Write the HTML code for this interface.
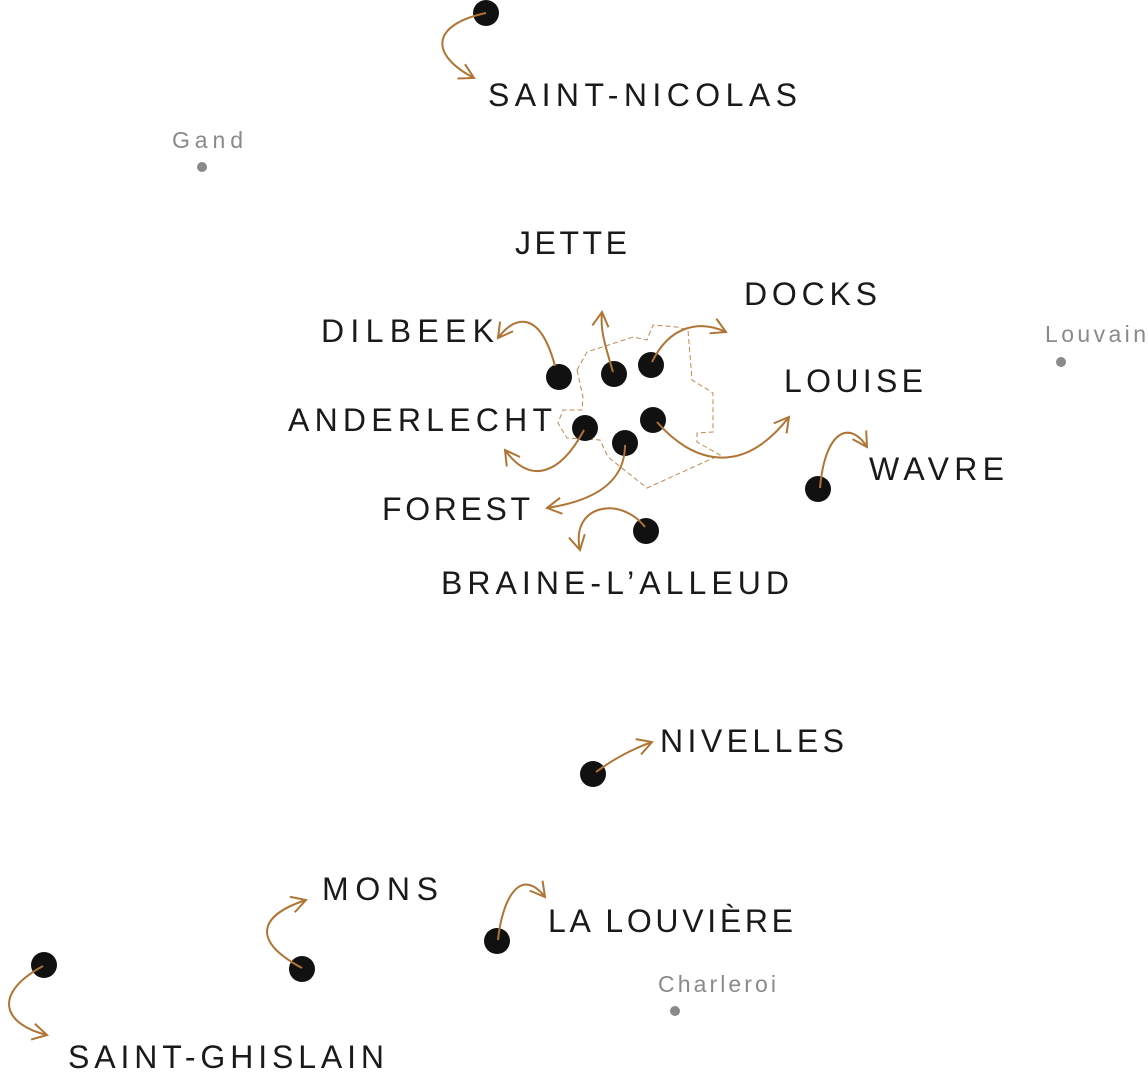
<!DOCTYPE html>
<html><head><meta charset="utf-8"><style>
html,body{margin:0;padding:0;background:#fff;}
svg{display:block;}
.l{font-family:"Liberation Sans",sans-serif;font-size:32px;fill:#1a1a1a;}
.g{font-family:"Liberation Sans",sans-serif;font-size:23px;fill:#8a8a8a;}
</style></head><body>
<svg width="1148" height="1080" viewBox="0 0 1148 1080" xmlns="http://www.w3.org/2000/svg">
<defs>
<marker id="a" viewBox="0 0 10 10" refX="9" refY="5" markerWidth="18" markerHeight="18" markerUnits="userSpaceOnUse" orient="auto">
<path d="M1,0.5 L9,5 L1,9.5" fill="none" stroke="#b07434" stroke-width="1.1"/>
</marker>
</defs>
<polygon points="577,370 587,352 633,337 647,340 653,325 677,327 688,330 692,380 713,393 713,432 697,433 697,442 720,455 647,488 608,457 600,440 567,438 558,423 563,410 582,410 583,397" fill="none" stroke="#c08850" stroke-width="1" stroke-dasharray="5,3"/>
<g fill="#111">
<circle cx="486" cy="13" r="13"/><circle cx="559" cy="377" r="13"/><circle cx="614" cy="374" r="13"/>
<circle cx="651" cy="365" r="13"/><circle cx="585" cy="428" r="13"/><circle cx="625" cy="443" r="13"/>
<circle cx="653" cy="420" r="13"/><circle cx="646" cy="531" r="13"/><circle cx="818" cy="489" r="13"/>
<circle cx="593" cy="774" r="13"/><circle cx="497" cy="941" r="13"/><circle cx="302" cy="969" r="13"/>
<circle cx="44" cy="965" r="13"/>
</g>
<g fill="#8a8a8a"><circle cx="202" cy="167" r="5"/><circle cx="1061" cy="362" r="5"/><circle cx="675" cy="1011" r="5"/></g>
<g fill="none" stroke="#b07434" stroke-width="2" marker-end="url(#a)">
<path d="M486,13 C430,25 430,55 474,78"/>
<path d="M555,366 C540,310 515,315 498,338"/>
<path d="M613,372 C605,345 600,330 602,312"/>
<path d="M652,362 C670,325 700,320 726,332"/>
<path d="M657,422 C690,460 740,480 789,417"/>
<path d="M584,430 C560,475 530,485 505,450"/>
<path d="M625,445 C625,490 580,503 547,508"/>
<path d="M645,527 C620,495 570,505 580,550"/>
<path d="M820,488 C825,430 850,420 867,447"/>
<path d="M596,772 C615,758 635,748 652,742"/>
<path d="M498,940 C502,900 520,865 545,897"/>
<path d="M302,968 C250,940 260,915 306,900"/>
<path d="M43,966 C-10,995 5,1025 47,1035"/>
</g>
<text class="l" x="488" y="106" textLength="309" lengthAdjust="spacing">SAINT-NICOLAS</text>
<text class="l" x="515" y="254" textLength="112" lengthAdjust="spacing">JETTE</text>
<text class="l" x="744" y="305" textLength="133" lengthAdjust="spacing">DOCKS</text>
<text class="l" x="321" y="342" textLength="173" lengthAdjust="spacing">DILBEEK</text>
<text class="l" x="784" y="392" textLength="139" lengthAdjust="spacing">LOUISE</text>
<text class="l" x="288" y="431" textLength="264" lengthAdjust="spacing">ANDERLECHT</text>
<text class="l" x="869" y="480" textLength="135" lengthAdjust="spacing">WAVRE</text>
<text class="l" x="382" y="520" textLength="148" lengthAdjust="spacing">FOREST</text>
<text class="l" x="441" y="594" textLength="348" lengthAdjust="spacing">BRAINE-L’ALLEUD</text>
<text class="l" x="660" y="752" textLength="184" lengthAdjust="spacing">NIVELLES</text>
<text class="l" x="322" y="900" textLength="116" lengthAdjust="spacing">MONS</text>
<text class="l" x="548" y="932" textLength="245" lengthAdjust="spacing">LA LOUVIÈRE</text>
<text class="l" x="68" y="1068" textLength="316" lengthAdjust="spacing">SAINT-GHISLAIN</text>
<text class="g" x="172" y="148" textLength="71" lengthAdjust="spacing">Gand</text>
<text class="g" x="1045" y="342" textLength="101" lengthAdjust="spacing">Louvain</text>
<text class="g" x="658" y="992" textLength="118" lengthAdjust="spacing">Charleroi</text>
</svg>
</body></html>
